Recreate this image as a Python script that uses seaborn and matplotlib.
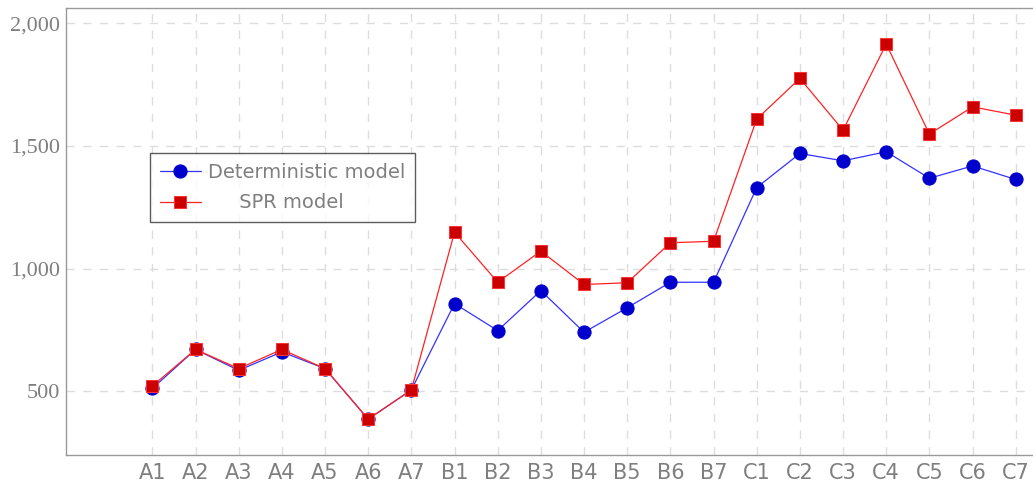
import pandas as pd
import seaborn as sns
import matplotlib.pyplot as plt

# dados
instances = ['A1', 'A2', 'A3', 'A4', 'A5', 'A6', 'A7',
             'B1', 'B2', 'B3', 'B4', 'B5', 'B6', 'B7',
             'C1', 'C2', 'C3', 'C4', 'C5', 'C6', 'C7']
deterministic = [511, 670, 585, 660, 592, 386, 505,
                 857, 747, 910, 740, 840, 944, 944,
                 1330, 1469, 1439, 1476, 1368, 1418, 1363]
spr = [521, 670, 592, 670, 592, 386, 505,
       1148, 944, 1071, 935, 942, 1105, 1111,
       1609, 1775, 1564, 1915, 1548, 1659, 1625]

df = pd.DataFrame({'Instance': instances,
                   'Deterministic model': deterministic,
                   'SPR model': spr})

sns.set_style('white')
grey = '#7f7f7f'

fig = plt.figure(figsize=(10.33, 4.84), dpi=100)
ax = fig.add_axes([0.0639, 0.06, 0.9361, 0.9235])

sns.lineplot(data=df, x='Instance', y='Deterministic model', ax=ax,
             color='#3333ff', linewidth=0.9, marker='o', markersize=9.5,
             markerfacecolor='#0000cc', markeredgecolor='#0000cc',
             label='Deterministic model')
sns.lineplot(data=df, x='Instance', y='SPR model', ax=ax,
             color='#ff2222', linewidth=0.9, marker='s', markersize=9,
             markerfacecolor='#cc0000', markeredgecolor='#ff3333',
             label='     SPR model')

ax.set_xlim(-2, 20.4)
ax.set_ylim(240, 2062)
ax.set_yticks([500, 1000, 1500, 2000])
ax.set_yticklabels(['500', '1,000', '1,500', '2,000'],
                   family='Liberation Serif', fontsize=16, color=grey)
ax.set_xticks(range(len(instances)))
ax.set_xticklabels(instances, fontsize=15, color=grey)
ax.set_xlabel('')
ax.set_ylabel('')

ax.grid(True, linestyle=(0, (6, 6)), color='#dddddd', linewidth=1)
ax.tick_params(axis='x', direction='in', length=5, color='#aaaaaa',
               width=0.8, pad=6)
ax.tick_params(axis='y', direction='in', length=5, color='#aaaaaa',
               width=0.8, pad=4)
for side in ['left', 'bottom', 'top']:
    ax.spines[side].set_color('#999999')
    ax.spines[side].set_linewidth(1)
ax.spines['right'].set_visible(False)

leg = ax.legend(loc='upper left', bbox_to_anchor=(0.0869, 0.6756),
                borderaxespad=0, fontsize=14, frameon=True, fancybox=False,
                handlelength=2.1, borderpad=0.5, labelspacing=0.6,
                handletextpad=0.4)
leg.get_frame().set_edgecolor('#333333')
leg.get_frame().set_linewidth(1)
for t in leg.get_texts():
    t.set_color(grey)

fig.savefig('out.png', dpi=100)
